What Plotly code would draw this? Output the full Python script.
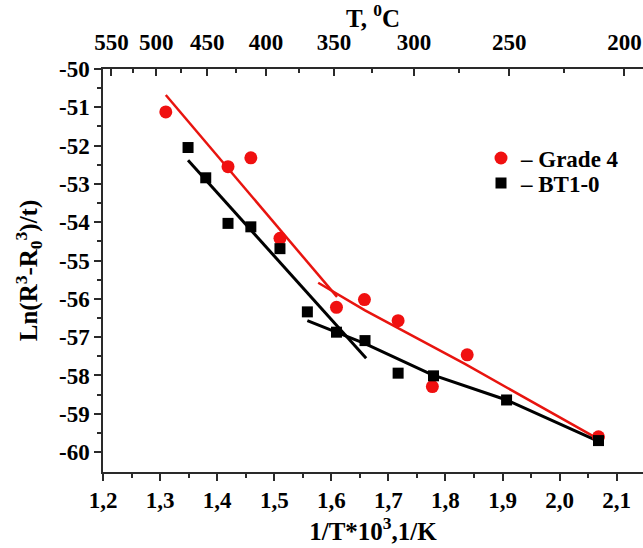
import plotly.graph_objects as go

# Data
grade4_x = [1.310, 1.419, 1.459, 1.510, 1.609, 1.658, 1.717, 1.777, 1.838, 2.068]
grade4_y = [-51.12, -52.55, -52.32, -54.42, -56.22, -56.02, -56.57, -58.29, -57.46, -59.60]

bt10_x = [1.349, 1.380, 1.419, 1.459, 1.510, 1.558, 1.609, 1.659, 1.717, 1.779, 1.907, 2.068]
bt10_y = [-52.05, -52.84, -54.03, -54.12, -54.69, -56.34, -56.87, -57.09, -57.94, -58.01, -58.64, -59.70]

# Fit lines
red_fit1_x = [1.310, 1.610]
red_fit1_y = [-50.68, -55.95]
red_fit2_x = [1.577, 1.659, 1.834, 2.068]
red_fit2_y = [-55.58, -56.30, -57.70, -59.66]
blk_fit1_x = [1.349, 1.661]
blk_fit1_y = [-52.38, -57.55]
blk_fit2_x = [1.558, 1.659, 1.776, 1.907, 2.068]
blk_fit2_y = [-56.57, -57.17, -57.98, -58.64, -59.72]

# Axes ticks
x_ticks = [1.2, 1.3, 1.4, 1.5, 1.6, 1.7, 1.8, 1.9, 2.0, 2.1]
x_ticklabels = ["1,2", "1,3", "1,4", "1,5", "1,6", "1,7", "1,8", "1,9", "2,0", "2,1"]
y_ticks = [-60, -59, -58, -57, -56, -55, -54, -53, -52, -51, -50]
y_ticklabels = ["-60", "-59", "-58", "-57", "-56", "-55", "-54", "-53", "-52", "-51", "-50"]
temp_ticks_c = [550, 500, 450, 400, 350, 300, 250, 200]
temp_minor_c = [525, 475, 425, 375, 325, 275, 225]

inv = lambda t: 1000.0 / (t + 273.15)
b = lambda s: "<b>" + s + "</b>"

FONT = "Liberation Serif"
AXC = "#2a2a2a"
XR = [1.2, 2.146]
YR = [-60.52, -50.0]

fig = go.Figure()

fig.add_trace(go.Scatter(x=red_fit1_x, y=red_fit1_y, mode="lines",
                         line=dict(color="#e8140f", width=2.5), showlegend=False))
fig.add_trace(go.Scatter(x=red_fit2_x, y=red_fit2_y, mode="lines",
                         line=dict(color="#e8140f", width=2.5), showlegend=False))
fig.add_trace(go.Scatter(x=blk_fit1_x, y=blk_fit1_y, mode="lines",
                         line=dict(color="black", width=3), showlegend=False))
fig.add_trace(go.Scatter(x=blk_fit2_x, y=blk_fit2_y, mode="lines",
                         line=dict(color="black", width=3), showlegend=False))

fig.add_trace(go.Scatter(x=grade4_x, y=grade4_y, mode="markers", name=b("– Grade 4"),
                         legend="legend",
                         marker=dict(symbol="circle", size=13, color="#f01010")))
fig.add_trace(go.Scatter(x=bt10_x, y=bt10_y, mode="markers", name=b("– BT1-0"),
                         legend="legend2",
                         marker=dict(symbol="square", size=11, color="black")))

# invisible trace for top axis
fig.add_trace(go.Scatter(x=[XR[0]], y=[YR[0]], xaxis="x2", mode="markers",
                         marker=dict(opacity=0), showlegend=False, hoverinfo="skip"))

tickfont = dict(family=FONT, size=23, color="black")
titlefont = dict(family=FONT, size=25, color="black")
legfont = dict(family=FONT, size=23, color="black")

fig.update_layout(
    width=643, height=548,
    margin=dict(l=103, r=0, t=69, b=76),
    paper_bgcolor="white", plot_bgcolor="white",
    font=dict(family=FONT, color="black"),
    showlegend=True,
    legend=dict(x=0.70, y=0.779, xanchor="left", yanchor="middle", font=legfont,
                bgcolor="rgba(0,0,0,0)", itemwidth=30),
    legend2=dict(x=0.70, y=0.717, xanchor="left", yanchor="middle", font=legfont,
                 bgcolor="rgba(0,0,0,0)", itemwidth=30),
    xaxis=dict(
        range=XR, tickmode="array", tickvals=x_ticks, ticktext=[b(t) for t in x_ticklabels],
        ticks="outside", ticklen=7, tickwidth=1.5, tickcolor=AXC, automargin=False,
        minor=dict(tickmode="array", tickvals=[v + 0.05 for v in x_ticks],
                   ticks="outside", ticklen=4, tickwidth=1.5, tickcolor=AXC),
        showline=True, linecolor=AXC, linewidth=1.5, showgrid=False, zeroline=False,
        tickfont=tickfont,
        title=dict(text=b("1/T*10<sup>3</sup>,1/K"), standoff=6, font=titlefont),
    ),
    xaxis2=dict(
        overlaying="x", side="top", range=XR, tickmode="array", automargin=False,
        tickvals=[inv(t) for t in temp_ticks_c], ticktext=[b(str(t)) for t in temp_ticks_c],
        ticks="inside", ticklen=7, tickwidth=1.5, tickcolor=AXC, ticklabelstandoff=8,
        minor=dict(tickmode="array", tickvals=[inv(t) for t in temp_minor_c],
                   ticks="inside", ticklen=4, tickwidth=1.5, tickcolor=AXC),
        showline=True, linecolor=AXC, linewidth=1.5, showgrid=False, zeroline=False,
        tickfont=tickfont,
        title=dict(text=b("T, <sup>0</sup>C"), standoff=4, font=titlefont),
    ),
    yaxis=dict(
        range=YR, tickmode="array", tickvals=y_ticks, ticktext=[b(t) for t in y_ticklabels],
        ticks="outside", ticklen=7, tickwidth=1.5, tickcolor=AXC, automargin=False,
        minor=dict(tickmode="array", tickvals=[v + 0.5 for v in y_ticks[:-1]],
                   ticks="outside", ticklen=4, tickwidth=1.5, tickcolor=AXC),
        showline=True, linecolor=AXC, linewidth=1.5, showgrid=False, zeroline=False,
        tickfont=tickfont,
        title=dict(text=b("Ln(R<sup>3</sup>-R<sub>0</sub><sup>3</sup>)/t)"), standoff=14,
                   font=titlefont),
    ),
)

fig.write_html("out.html", config={"displayModeBar": False},
               post_script="document.body.style.margin='0';document.body.style.overflow='hidden';")
